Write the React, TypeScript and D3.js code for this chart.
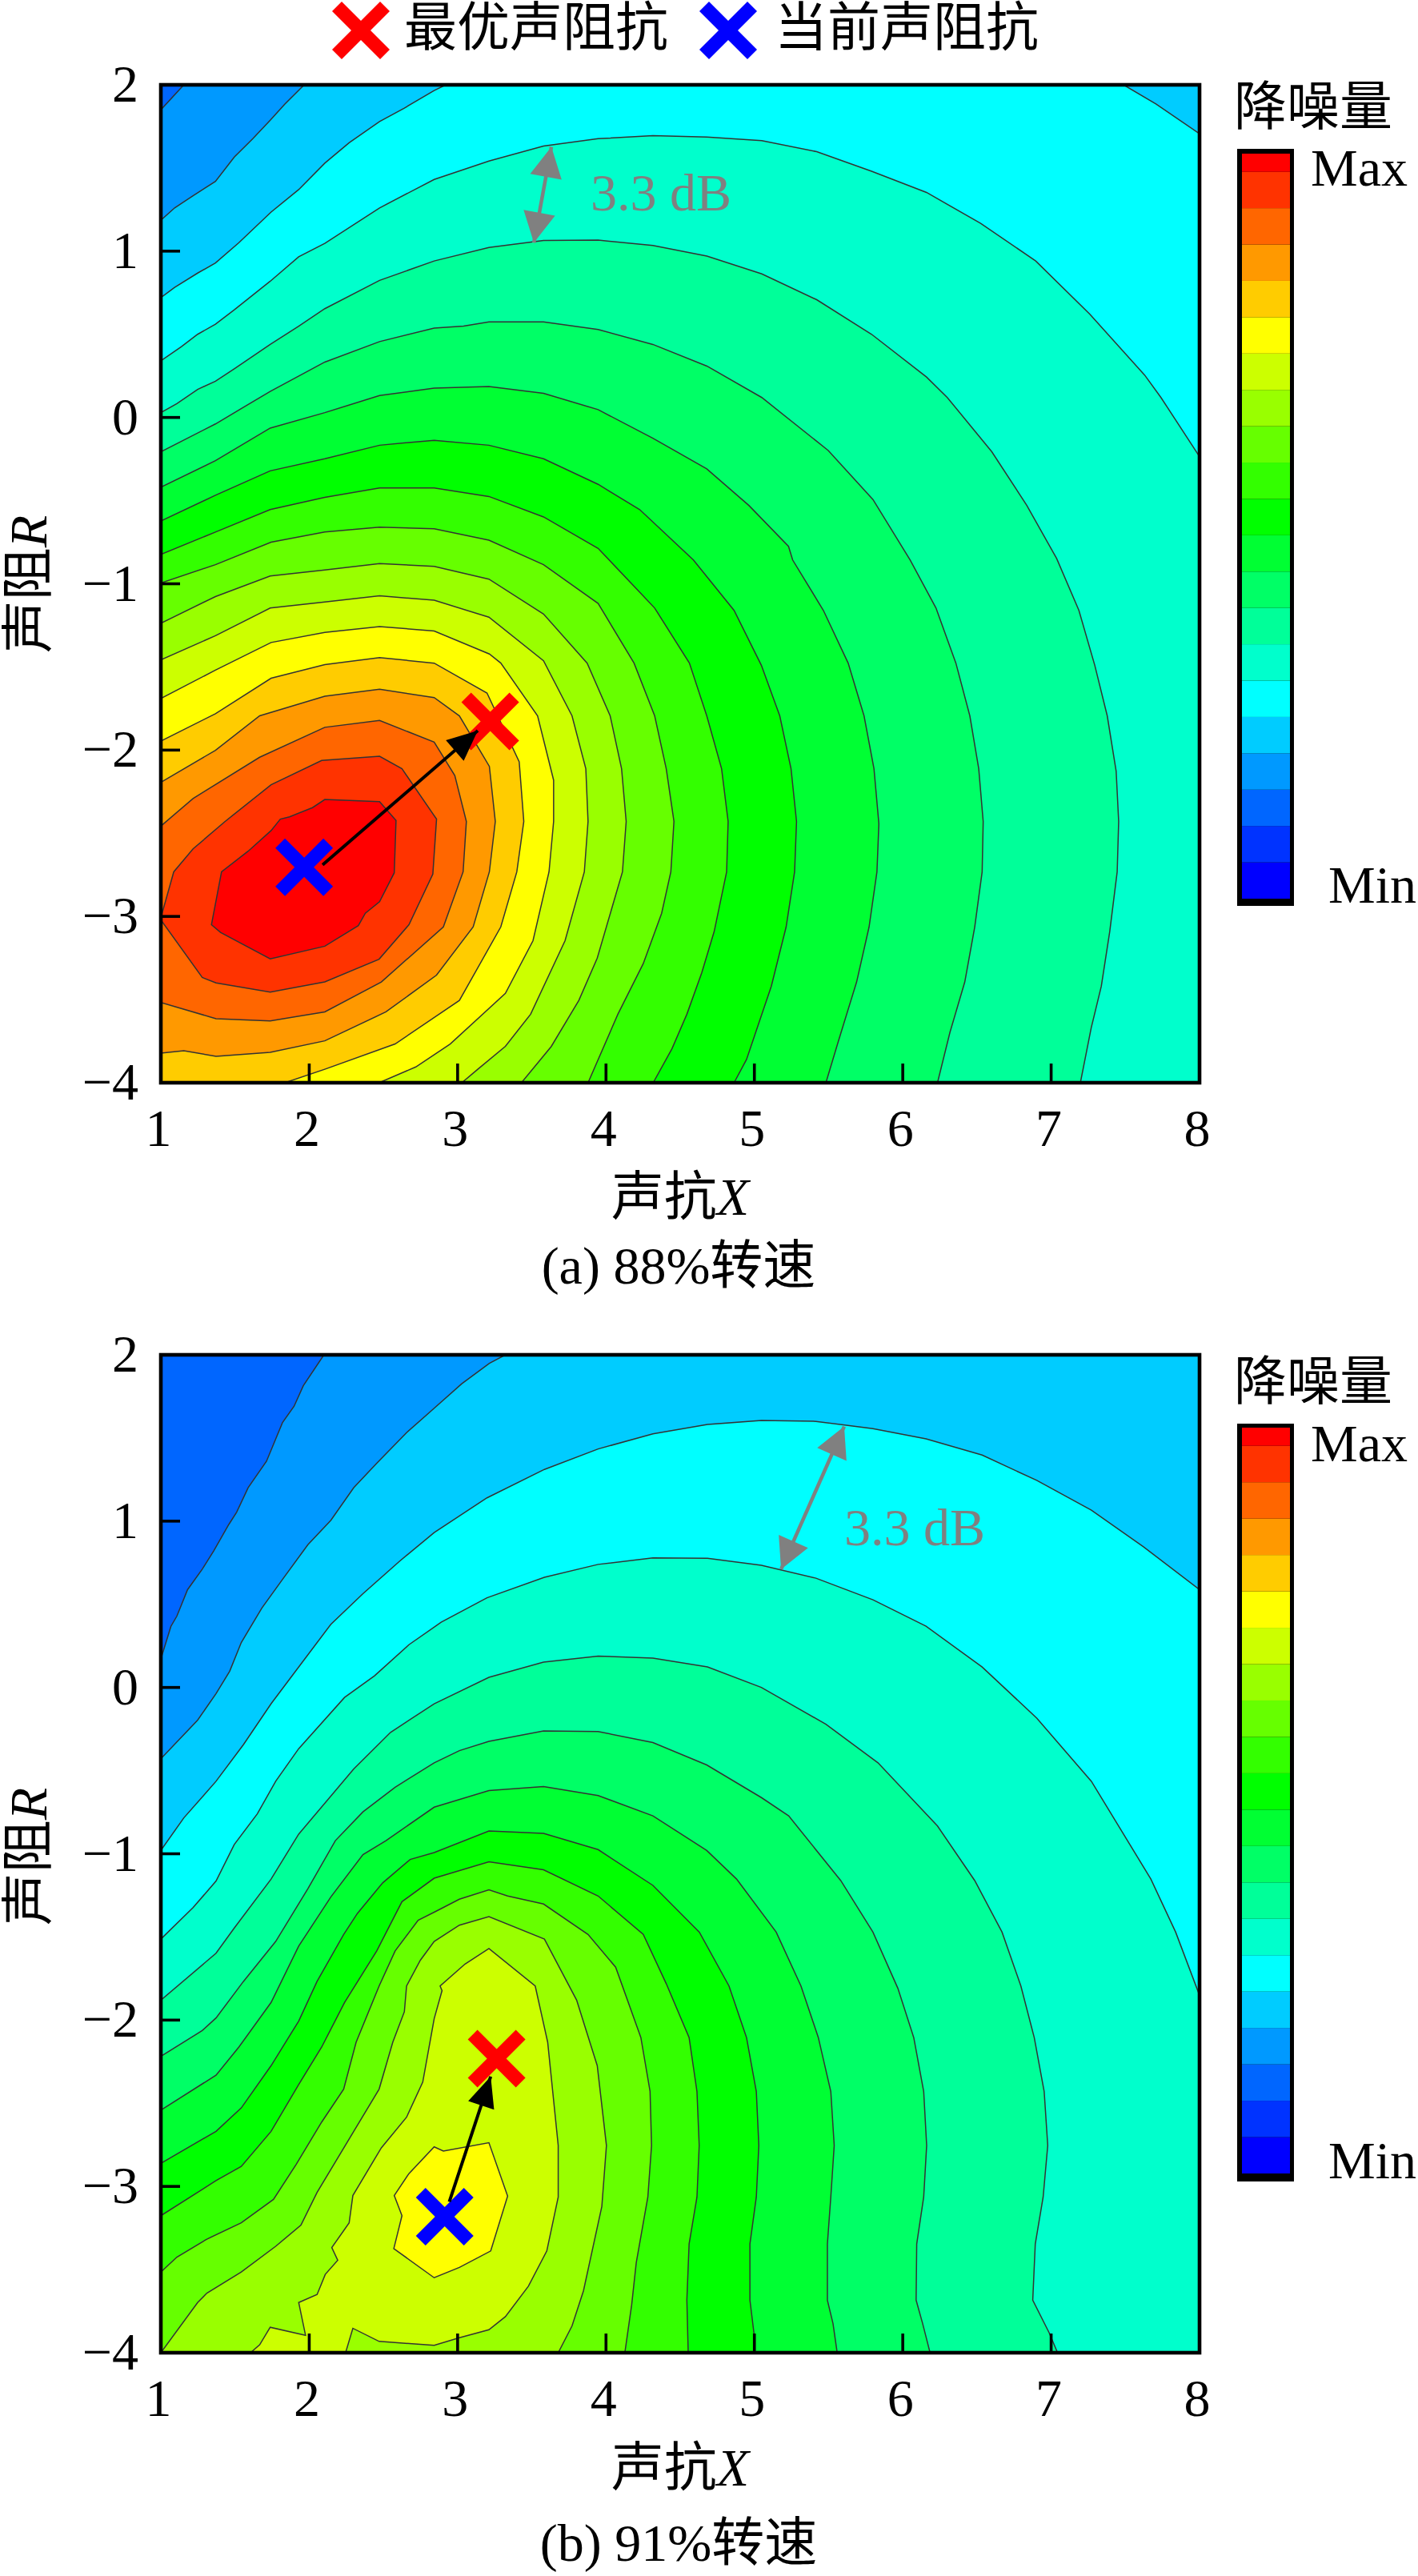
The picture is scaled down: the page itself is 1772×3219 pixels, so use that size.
import * as d3 from "d3";

type Pt = [number, number];

// colours of the contour bands, lowest first
const bandColors = [
  "#0000ff", "#0033ff", "#0066ff", "#0099ff", "#00ccff", "#00ffff", "#00ffcc",
  "#00ff99", "#00ff66", "#00ff33", "#00ff00", "#33ff00", "#66ff00", "#99ff00",
  "#ccff00", "#ffff00", "#ffcc00", "#ff9900", "#ff6600", "#ff3300", "#ff0000",
];
const baseBand = 2; // both panels bottom out at #0066ff

const xTicks = [1, 2, 3, 4, 5, 6, 7, 8];
const rTicks = [2, 1, 0, -1, -2, -3, -4];

// contour lines, as [X, R], one per level going upward
const contoursA: Pt[][] = [
  [[1, 1.85], [1.155, 2]],
  [[1, 1.186], [1.093, 1.26], [1.217, 1.333], [1.368, 1.419], [1.495, 1.566], [1.62, 1.676], [1.737, 1.787], [1.836, 1.885], [1.966, 2]],
  [[1, 0.721], [1.093, 0.782], [1.248, 0.868], [1.368, 0.929], [1.526, 1.051], [1.743, 1.235], [1.929, 1.37], [2.105, 1.529], [2.269, 1.652], [2.474, 1.779], [2.641, 1.86], [2.842, 1.966], [2.92, 2], [7.488, 2], [7.706, 1.885], [8, 1.706]],
  [[1, 0.341], [1.139, 0.426], [1.248, 0.5], [1.368, 0.561], [1.495, 0.647], [1.737, 0.819], [1.929, 0.966], [2.105, 1.047], [2.474, 1.26], [2.842, 1.431], [3.211, 1.542], [3.579, 1.632], [3.947, 1.676], [4.316, 1.694], [4.68, 1.686], [5.05, 1.664], [5.42, 1.598], [5.79, 1.48], [6.16, 1.353], [6.525, 1.167], [6.896, 0.941], [7.26, 0.622], [7.63, 0.255], [7.74, 0.12], [8, -0.235]],
  [[1, 0.029], [1.108, 0.083], [1.248, 0.169], [1.368, 0.218], [1.495, 0.292], [1.737, 0.439], [1.929, 0.549], [2.105, 0.654], [2.474, 0.824], [2.842, 0.941], [3.211, 1.022], [3.579, 1.064], [3.947, 1.066], [4.316, 1.034], [4.68, 0.97], [5.05, 0.863], [5.42, 0.708], [5.79, 0.5], [6.16, 0.243], [6.3, 0.12], [6.6, -0.206], [6.836, -0.529], [7.037, -0.848], [7.187, -1.16], [7.294, -1.49], [7.378, -1.794], [7.438, -2.126], [7.455, -2.429], [7.445, -2.732], [7.395, -3.09], [7.338, -3.42], [7.27, -3.67], [7.197, -4]],
  [[1, -0.206], [1.368, -0.039], [1.737, 0.157], [2.105, 0.333], [2.474, 0.456], [2.842, 0.537], [3.04, 0.549], [3.211, 0.574], [3.579, 0.574], [3.947, 0.529], [4.316, 0.439], [4.68, 0.309], [5.05, 0.12], [5.498, -0.199], [5.799, -0.493], [6.05, -0.857], [6.224, -1.146], [6.358, -1.477], [6.452, -1.794], [6.512, -2.112], [6.542, -2.429], [6.535, -2.732], [6.485, -3.063], [6.418, -3.394], [6.318, -3.697], [6.234, -4]],
  [[1, -0.419], [1.368, -0.26], [1.737, -0.064], [2.105, 0.029], [2.474, 0.132], [2.842, 0.176], [3.211, 0.186], [3.579, 0.145], [3.947, 0.047], [4.316, -0.125], [4.679, -0.309], [4.963, -0.529], [5.23, -0.775], [5.258, -0.857], [5.465, -1.16], [5.632, -1.477], [5.739, -1.794], [5.806, -2.112], [5.839, -2.443], [5.826, -2.732], [5.773, -3.063], [5.689, -3.394], [5.565, -3.753], [5.482, -4]],
  [[1, -0.623], [1.368, -0.468], [1.737, -0.321], [2.105, -0.248], [2.474, -0.167], [2.842, -0.137], [3.211, -0.167], [3.579, -0.248], [3.947, -0.402], [4.227, -0.554], [4.589, -0.857], [4.863, -1.16], [5.047, -1.49], [5.171, -1.794], [5.247, -2.112], [5.284, -2.429], [5.271, -2.732], [5.214, -3.063], [5.114, -3.42], [4.947, -3.86], [4.863, -4]],
  [[1, -0.824], [1.368, -0.689], [1.737, -0.554], [2.105, -0.48], [2.474, -0.424], [2.842, -0.424], [3.211, -0.475], [3.579, -0.598], [3.947, -0.787], [4.227, -1.05], [4.328, -1.146], [4.562, -1.477], [4.679, -1.794], [4.779, -2.112], [4.823, -2.429], [4.813, -2.732], [4.729, -3.091], [4.645, -3.34], [4.545, -3.588], [4.445, -3.795], [4.318, -4]],
  [[1, -0.995], [1.368, -0.885], [1.743, -0.75], [2.105, -0.689], [2.474, -0.659], [2.842, -0.669], [3.211, -0.738], [3.579, -0.885], [3.947, -1.118], [4.189, -1.477], [4.328, -1.794], [4.406, -2.112], [4.458, -2.429], [4.437, -2.732], [4.375, -2.981], [4.251, -3.284], [4.08, -3.588], [3.879, -4]],
  [[1, -1.237], [1.368, -1.077], [1.737, -0.953], [2.105, -0.917], [2.474, -0.879], [2.842, -0.895], [3.211, -0.972], [3.579, -1.182], [3.873, -1.477], [4.028, -1.794], [4.105, -2.112], [4.136, -2.429], [4.111, -2.732], [3.941, -3.251], [3.817, -3.505], [3.631, -3.782], [3.43, -4]],
  [[1, -1.458], [1.368, -1.312], [1.737, -1.146], [2.105, -1.11], [2.474, -1.072], [2.842, -1.099], [3.211, -1.201], [3.579, -1.463], [3.771, -1.794], [3.864, -2.112], [3.879, -2.429], [3.854, -2.732], [3.724, -3.146], [3.492, -3.588], [3.322, -3.781], [3.136, -3.919], [3.028, -4]],
  [[1, -1.69], [1.368, -1.519], [1.743, -1.353], [2.105, -1.292], [2.474, -1.257], [2.842, -1.284], [3.214, -1.422], [3.291, -1.477], [3.539, -1.794], [3.647, -2.181], [3.647, -2.429], [3.616, -2.732], [3.508, -3.146], [3.322, -3.463], [2.95, -3.767], [2.718, -3.905], [2.471, -4]],
  [[1, -1.946], [1.368, -1.781], [1.743, -1.568], [2.105, -1.486], [2.474, -1.444], [2.842, -1.477], [3.198, -1.657], [3.415, -2.07], [3.446, -2.429], [3.399, -2.732], [3.291, -3.063], [3.012, -3.505], [2.579, -3.767], [2.105, -3.919], [1.836, -4]],
  [[1, -2.194], [1.368, -2.001], [1.666, -1.794], [2.105, -1.676], [2.474, -1.634], [2.842, -1.684], [3.012, -1.794], [3.214, -2.098], [3.254, -2.429], [3.214, -2.732], [3.105, -3.063], [2.858, -3.353], [2.517, -3.574], [2.105, -3.748], [1.737, -3.817], [1.372, -3.841], [1.155, -3.808], [1, -3.822]],
  [[1, -2.457], [1.217, -2.291], [1.666, -2.043], [2.105, -1.863], [2.474, -1.822], [2.842, -1.952], [2.981, -2.153], [3.059, -2.429], [3.037, -2.732], [2.904, -3.063], [2.486, -3.394], [2.105, -3.574], [1.737, -3.628], [1.372, -3.615], [1, -3.518]],
  [[1, -3.008], [1.087, -2.732], [1.217, -2.594], [1.433, -2.429], [1.743, -2.208], [2.084, -2.062], [2.474, -2.037], [2.625, -2.112], [2.858, -2.415], [2.833, -2.746], [2.672, -3.05], [2.471, -3.257], [2.105, -3.394], [1.737, -3.455], [1.372, -3.4], [1.279, -3.367], [1, -3.021]],
  [[1.341, -3.05], [1.409, -2.732], [1.588, -2.608], [1.743, -2.484], [1.805, -2.415], [1.867, -2.401], [2.022, -2.346], [2.105, -2.297], [2.474, -2.31], [2.585, -2.423], [2.573, -2.738], [2.474, -2.912], [2.378, -2.981], [2.331, -3.055], [2.105, -3.179], [1.737, -3.255], [1.402, -3.096]],
];

// same for panel (b)
const contoursB: Pt[][] = [
  [[1, 0.172], [1.068, 0.368], [1.108, 0.429], [1.18, 0.588], [1.279, 0.711], [1.356, 0.821], [1.458, 0.98], [1.511, 1.054], [1.588, 1.201], [1.712, 1.36], [1.82, 1.593], [1.898, 1.691], [1.96, 1.814], [2.099, 2]],
  [[1, -0.429], [1.248, -0.196], [1.372, -0.037], [1.464, 0.098], [1.542, 0.27], [1.681, 0.478], [1.82, 0.65], [1.991, 0.858], [2.146, 1.005], [2.3, 1.201], [2.455, 1.348], [2.656, 1.532], [2.842, 1.679], [3.028, 1.826], [3.214, 1.949], [3.322, 2]],
  [[1, -0.98], [1.155, -0.784], [1.372, -0.564], [1.557, -0.343], [1.743, -0.098], [1.898, 0.086], [2.146, 0.38], [2.362, 0.564], [2.61, 0.76], [2.842, 0.931], [3.198, 1.14], [3.585, 1.311], [3.947, 1.434], [4.316, 1.525], [4.684, 1.581], [5.047, 1.605], [5.415, 1.6], [5.799, 1.556], [6.157, 1.495], [6.535, 1.397], [6.903, 1.245], [7.271, 1.066], [7.622, 0.846], [8, 0.588]],
  [[1, -1.513], [1.217, -1.324], [1.372, -1.164], [1.495, -0.944], [1.65, -0.76], [1.774, -0.564], [1.929, -0.368], [2.238, -0.06], [2.44, 0.07], [2.672, 0.257], [2.889, 0.392], [3.198, 0.539], [3.585, 0.662], [3.947, 0.74], [4.316, 0.779], [4.684, 0.777], [5.047, 0.735], [5.415, 0.657], [5.799, 0.527], [6.157, 0.368], [6.535, 0.123], [6.903, -0.184], [7.271, -0.564], [7.672, -1.152], [7.839, -1.471], [8, -1.851]],
  [[1, -1.88], [1.372, -1.598], [1.495, -1.446], [1.743, -1.152], [1.929, -0.882], [2.3, -0.49], [2.548, -0.27], [2.842, -0.098], [3.211, 0.061], [3.579, 0.152], [3.947, 0.189], [4.316, 0.176], [4.684, 0.123], [5.047, 0], [5.482, -0.221], [5.833, -0.453], [6.234, -0.833], [6.485, -1.161], [6.669, -1.471], [6.796, -1.795], [6.886, -2.105], [6.953, -2.429], [6.977, -2.754], [6.946, -3.064], [6.893, -3.346], [6.876, -3.684], [6.987, -3.881], [7.043, -4]],
  [[1, -2.218], [1.279, -2.063], [1.372, -1.987], [1.557, -1.767], [1.774, -1.527], [1.991, -1.21], [2.176, -0.921], [2.362, -0.748], [2.579, -0.6], [2.842, -0.453], [3.012, -0.38], [3.211, -0.324], [3.579, -0.262], [3.947, -0.265], [4.316, -0.331], [4.679, -0.466], [5.047, -0.662], [5.231, -0.772], [5.582, -1.161], [5.799, -1.471], [5.967, -1.809], [6.074, -2.105], [6.141, -2.429], [6.161, -2.754], [6.141, -3.064], [6.094, -3.346], [6.09, -3.684], [6.134, -3.825], [6.184, -4]],
  [[1, -2.542], [1.372, -2.331], [1.526, -2.162], [1.743, -1.894], [1.929, -1.555], [2.146, -1.259], [2.362, -1.005], [2.517, -0.921], [2.842, -0.72], [3.211, -0.62], [3.579, -0.596], [3.947, -0.65], [4.316, -0.772], [4.679, -0.98], [4.88, -1.152], [5.147, -1.471], [5.314, -1.795], [5.431, -2.105], [5.515, -2.429], [5.538, -2.754], [5.515, -3.064], [5.492, -3.346], [5.492, -3.684], [5.53, -3.825], [5.558, -4]],
  [[1, -2.861], [1.372, -2.669], [1.542, -2.528], [1.743, -2.274], [1.929, -2.006], [2.053, -1.767], [2.232, -1.485], [2.325, -1.358], [2.495, -1.175], [2.68, -1.034], [2.842, -0.993], [3.211, -0.863], [3.579, -0.877], [3.947, -0.975], [4.316, -1.19], [4.629, -1.471], [4.829, -1.795], [4.947, -2.105], [5.013, -2.429], [5.03, -2.754], [5.013, -3.064], [4.97, -3.346], [4.97, -3.684], [4.997, -3.881], [5.003, -4]],
  [[1, -3.176], [1.372, -2.965], [1.542, -2.88], [1.743, -2.669], [1.929, -2.387], [2.084, -2.162], [2.238, -1.894], [2.455, -1.584], [2.625, -1.288], [2.842, -1.147], [3.211, -1.048], [3.579, -1.096], [3.947, -1.254], [4.251, -1.485], [4.406, -1.781], [4.56, -2.105], [4.613, -2.429], [4.628, -2.754], [4.613, -3.064], [4.56, -3.346], [4.545, -3.684], [4.554, -4]],
  [[1, -3.515], [1.108, -3.425], [1.31, -3.317], [1.542, -3.219], [1.759, -3.078], [1.913, -2.866], [2.084, -2.613], [2.232, -2.415], [2.316, -2.133], [2.471, -1.795], [2.579, -1.584], [2.734, -1.4], [2.858, -1.344], [3.012, -1.273], [3.211, -1.217], [3.337, -1.254], [3.579, -1.302], [3.879, -1.485], [4.065, -1.682], [4.235, -2.105], [4.297, -2.429], [4.307, -2.754], [4.282, -3.064], [4.204, -3.458], [4.173, -3.712], [4.127, -4]],
  [[1, -4], [1.248, -3.698], [1.31, -3.642], [1.542, -3.515], [1.774, -3.36], [1.944, -3.233], [2.053, -3.036], [2.3, -2.669], [2.471, -2.415], [2.563, -2.133], [2.641, -1.95], [2.656, -1.795], [2.749, -1.64], [2.842, -1.527], [3.012, -1.429], [3.211, -1.378], [3.585, -1.513], [3.802, -1.88], [3.941, -2.274], [4.003, -2.754], [3.972, -3.12], [3.848, -3.628], [3.771, -3.839], [3.678, -4]],
  [[1.604, -4], [1.666, -3.952], [1.737, -3.847], [1.975, -3.895], [1.929, -3.698], [2.053, -3.65], [2.108, -3.529], [2.192, -3.444], [2.152, -3.368], [2.269, -3.219], [2.294, -3.055], [2.486, -2.768], [2.656, -2.584], [2.765, -2.373], [2.842, -1.992], [2.895, -1.823], [2.882, -1.795], [3.05, -1.663], [3.211, -1.57], [3.523, -1.795], [3.607, -2.133], [3.678, -2.754], [3.678, -3.064], [3.601, -3.388], [3.477, -3.6], [3.322, -3.783], [3.211, -3.862], [3.012, -3.91], [2.842, -3.955], [2.471, -3.932], [2.294, -3.853], [2.245, -4]],
  [[2.842, -2.762], [2.904, -2.787], [3.211, -2.737], [3.337, -3.058], [3.223, -3.388], [3.012, -3.487], [2.842, -3.549], [2.57, -3.374], [2.625, -3.176], [2.573, -3.055], [2.672, -2.923]],
];

const optimalA: Pt = [3.22, -1.828];
const currentA: Pt = [1.966, -2.705];
const moveA: Pt[] = [[2.09, -2.69], [3.136, -1.883]];
const gapA: Pt[] = [[3.632, 1.627], [3.514, 1.051]];

const optimalB: Pt = [3.263, -2.232];
const currentB: Pt = [2.913, -3.182];
const moveB: Pt[] = [[2.944, -3.092], [3.223, -2.339]];
const gapB: Pt[] = [[5.605, 1.569], [5.18, 0.711]];

const SERIF = '"Liberation Serif", "Noto Sans CJK SC", serif';
const FONT_SIZE = 66;

const PLOT_LEFT = 201;
const PLOT_RIGHT = 1499;
const PLOT_HEIGHT = 1247;

const xScale = d3.scaleLinear().domain([1, 8]).range([PLOT_LEFT, PLOT_RIGHT]);

// run the line along the frame so the area above the level is a closed shape
function closeRing(pts: Pt[]): Pt[] {
  const first = pts[0];
  const last = pts[pts.length - 1];
  if (first[1] === -4 || last[0] === 1) return pts;
  if (last[1] === 2) return [...pts, [8, 2], [8, -4], [1, -4]];
  if (last[0] === 8) return [...pts, [8, -4], [1, -4]];
  if (last[1] === -4) return [...pts, [1, -4]];
  return pts;
}

function Cross({ cx, cy, color }: { cx: number; cy: number; color: string }) {
  const a = 30;
  return (
    <g stroke={color} strokeWidth={17}>
      <line x1={cx - a} y1={cy - a} x2={cx + a} y2={cy + a} />
      <line x1={cx - a} y1={cy + a} x2={cx + a} y2={cy - a} />
    </g>
  );
}

// head is a triangle with its tip on (x2, y2)
function arrowHead(x1: number, y1: number, x2: number, y2: number, len: number, wid: number) {
  const d = Math.hypot(x2 - x1, y2 - y1);
  const ux = (x2 - x1) / d;
  const uy = (y2 - y1) / d;
  const bx = x2 - ux * len;
  const by = y2 - uy * len;
  return `${x2},${y2} ${bx - (uy * wid) / 2},${by + (ux * wid) / 2} ${bx + (uy * wid) / 2},${by - (ux * wid) / 2}`;
}

function Panel({
  id,
  top,
  contours,
  optimal,
  current,
  move,
  gap,
  gapLabel,
  barTop,
  barBottom,
  barInnerTop,
  barInnerBottom,
  titleY,
  maxY,
  minY,
  yLabelY,
  xLabelY,
  caption,
  captionY,
}: {
  id: string;
  top: number;
  contours: Pt[][];
  optimal: Pt;
  current: Pt;
  move: Pt[];
  gap: Pt[];
  gapLabel: Pt;
  barTop: number;
  barBottom: number;
  barInnerTop: number;
  barInnerBottom: number;
  titleY: number;
  maxY: number;
  minY: number;
  yLabelY: number;
  xLabelY: number;
  caption: string;
  captionY: number;
}) {
  const bottom = top + PLOT_HEIGHT;
  const yScale = d3.scaleLinear().domain([-4, 2]).range([bottom, top]);
  const line = d3
    .line<Pt>()
    .x((d) => xScale(d[0]))
    .y((d) => yScale(d[1]));

  // top band of the colour bar is only half as tall as the others
  const barScale = d3
    .scaleLinear()
    .domain([0, bandColors.length - 0.5])
    .range([barInnerBottom, barInnerTop]);

  const [mx1, my1, mx2, my2] = [xScale(move[0][0]), yScale(move[0][1]), xScale(move[1][0]), yScale(move[1][1])];
  const [gx1, gy1, gx2, gy2] = [xScale(gap[0][0]), yScale(gap[0][1]), xScale(gap[1][0]), yScale(gap[1][1])];

  return (
    <g>
      <clipPath id={id}>
        <rect x={PLOT_LEFT} y={top} width={PLOT_RIGHT - PLOT_LEFT} height={PLOT_HEIGHT} />
      </clipPath>
      <g clipPath={`url(#${id})`}>
        <rect x={PLOT_LEFT} y={top} width={PLOT_RIGHT - PLOT_LEFT} height={PLOT_HEIGHT} fill={bandColors[baseBand]} />
        {contours.map((c, i) => (
          <path
            key={i}
            d={line(closeRing(c)) + "Z"}
            fill={bandColors[baseBand + 1 + i]}
            stroke="#333"
            strokeWidth={1.5}
          />
        ))}
      </g>

      {/* ticks point inward, frame goes on top */}
      <g stroke="#000" strokeWidth={3.6}>
        {xTicks.slice(1, -1).map((t) => (
          <line key={t} x1={xScale(t)} x2={xScale(t)} y1={bottom} y2={bottom - 24} />
        ))}
        {rTicks.slice(1, -1).map((t) => (
          <line key={t} x1={PLOT_LEFT} x2={PLOT_LEFT + 24} y1={yScale(t)} y2={yScale(t)} />
        ))}
      </g>
      <rect
        x={PLOT_LEFT}
        y={top}
        width={PLOT_RIGHT - PLOT_LEFT}
        height={PLOT_HEIGHT}
        fill="none"
        stroke="#000"
        strokeWidth={4.6}
      />

      <g fontFamily={SERIF} fontSize={FONT_SIZE} fill="#000">
        {xTicks.map((t) => (
          <text key={t} x={xScale(t) - 3} y={bottom + 79} textAnchor="middle">
            {t}
          </text>
        ))}
        {rTicks.map((t) => (
          <text key={t} x={173} y={yScale(t) + 21} textAnchor="end">
            {t < 0 ? "\u2212" + Math.abs(t) : t}
          </text>
        ))}
        <text x={850} y={xLabelY} textAnchor="middle">
          声抗<tspan fontStyle="italic">X</tspan>
        </text>
        <text transform={`translate(58,${yLabelY}) rotate(-90)`} textAnchor="middle">
          声阻<tspan fontStyle="italic">R</tspan>
        </text>
        <text x={848} y={captionY} textAnchor="middle">
          {caption}
        </text>
      </g>

      {/* 3.3 dB spacing marker */}
      <g fill="#808080" stroke="none">
        <line x1={gx1} y1={gy1} x2={gx2} y2={gy2} stroke="#808080" strokeWidth={4.5} />
        <polygon points={arrowHead(gx2, gy2, gx1, gy1, 38, 40)} />
        <polygon points={arrowHead(gx1, gy1, gx2, gy2, 38, 40)} />
        <text x={gapLabel[0]} y={gapLabel[1]} fontFamily={SERIF} fontSize={FONT_SIZE}>
          3.3 dB
        </text>
      </g>

      <Cross cx={xScale(optimal[0])} cy={yScale(optimal[1])} color="#ff0000" />
      <Cross cx={xScale(current[0])} cy={yScale(current[1])} color="#0000ff" />
      <line x1={mx1} y1={my1} x2={mx2} y2={my2} stroke="#000" strokeWidth={4} />
      <polygon points={arrowHead(mx1, my1, mx2, my2, 38, 34)} fill="#000" />

      {/* colour bar */}
      <rect x={1546} y={barTop} width={71} height={barBottom - barTop} fill="#000" />
      {bandColors.map((c, i) => (
        <rect
          key={c}
          x={1552}
          width={60}
          y={barScale(Math.min(i + 1, bandColors.length - 0.5))}
          height={barScale(i) - barScale(Math.min(i + 1, bandColors.length - 0.5))}
          fill={c}
        />
      ))}
      <g fontFamily={SERIF} fontSize={FONT_SIZE} fill="#000">
        <text x={1542} y={titleY}>
          降噪量
        </text>
        <text x={1638} y={maxY}>
          Max
        </text>
        <text x={1660} y={minY}>
          Min
        </text>
      </g>
    </g>
  );
}

export default function App() {
  return (
    <svg
      width={1772}
      height={3219}
      viewBox="0 0 1772 3219"
      style={{ position: "absolute", left: 0, top: 0, display: "block", background: "#fff" }}
    >
      {/* shared legend */}
      <Cross cx={451} cy={38} color="#ff0000" />
      <Cross cx={910} cy={38} color="#0000ff" />
      <g fontFamily={SERIF} fontSize={FONT_SIZE} fill="#000">
        <text x={505} y={57}>
          最优声阻抗
        </text>
        <text x={968} y={57}>
          当前声阻抗
        </text>
      </g>

      <Panel
        id="clip-a"
        top={106}
        contours={contoursA}
        optimal={optimalA}
        current={currentA}
        move={moveA}
        gap={gapA}
        gapLabel={[738, 263]}
        barTop={186}
        barBottom={1132}
        barInnerTop={192}
        barInnerBottom={1123}
        titleY={156}
        maxY={232}
        minY={1128}
        yLabelY={730}
        xLabelY={1518}
        caption="(a) 88%转速"
        captionY={1604}
      />
      <Panel
        id="clip-b"
        top={1693}
        contours={contoursB}
        optimal={optimalB}
        current={currentB}
        move={moveB}
        gap={gapB}
        gapLabel={[1055, 1931]}
        barTop={1779}
        barBottom={2726}
        barInnerTop={1784}
        barInnerBottom={2716}
        titleY={1749}
        maxY={1826}
        minY={2722}
        yLabelY={2320}
        xLabelY={3106}
        caption="(b) 91%转速"
        captionY={3200}
      />
    </svg>
  );
}
